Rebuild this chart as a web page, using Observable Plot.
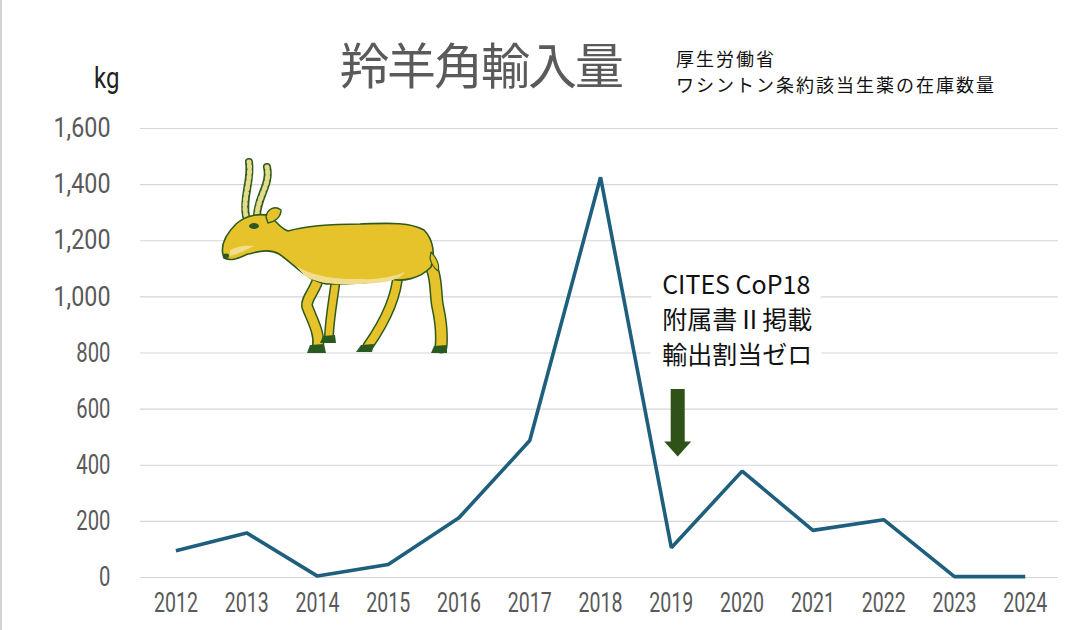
<!DOCTYPE html>
<html>
<head>
<meta charset="utf-8">
<script src="https://cdn.jsdelivr.net/npm/d3@7"></script>
<script src="https://cdn.jsdelivr.net/npm/@observablehq/plot@0.6"></script>
<style>
  html, body { margin: 0; padding: 0; background: #fff; }
  #wrap { position: relative; width: 1072px; height: 630px; overflow: hidden; background: #fff; }
  #wrap .edge { position: absolute; left: 0; top: 0; width: 2px; height: 630px; background: #d4d4d4; }
  .lbl { position: absolute; white-space: nowrap; line-height: 1; }
  #title { left: 340px; top: 38px; font-family: "Noto Sans CJK JP", sans-serif; font-size: 49px; color: #5a5a5a; letter-spacing: -2px; }
  .sub { left: 676px; font-family: "Noto Sans CJK JP", sans-serif; font-size: 18px; color: #111; line-height: 18px; height: 18px; letter-spacing: 2px; }
  #sub1 { top: 49px; }
  #sub2 { top: 75px; }
  #unit { left: 94px; top: 63px; font-family: Roboto, sans-serif; font-size: 30px; color: #222; transform: scaleX(0.8); transform-origin: 0 0; }
  #saiga { position: absolute; left: 0; top: 0; pointer-events: none; }
</style>
</head>
<body>
<div id="wrap">
  <div class="edge"></div>
  <div id="chart"></div>
  <div class="lbl" id="title"></div>
  <div class="lbl sub" id="sub1"></div>
  <div class="lbl sub" id="sub2"></div>
  <div class="lbl" id="unit"></div>
</div>
<script>
// ---- data ----
const years = [2012, 2013, 2014, 2015, 2016, 2017, 2018, 2019, 2020, 2021, 2022, 2023, 2024];
const kg    = [95, 159, 5, 46, 213, 488, 1426, 106, 379, 168, 206, 3, 3];
const yTicks = [0, 200, 400, 600, 800, 1000, 1200, 1400, 1600];
const titleText = "羚羊角輸入量";
const subLines = ["厚生労働省", "ワシントン条約該当生薬の在庫数量"];
const unitText = "kg";
const noteLines = ["CITES CoP18", "附属書Ⅱ掲載", "輸出割当ゼロ"];
const noteYear = 2018.87;
const noteValues = [1040, 915, 790];
const arrowYear = 2019.09;
const arrowFrom = 670;
const arrowShaftEnd = 481;
const arrowTip = 431;

const data = years.map((y, i) => ({year: y, kg: kg[i]}));
const notes = noteLines.map((t, i) => ({text: t, year: noteYear, v: noteValues[i]}));

document.getElementById("title").textContent = titleText;
document.getElementById("sub1").textContent = subLines[0];
document.getElementById("sub2").textContent = subLines[1];
document.getElementById("unit").textContent = unitText;

const green = "#2e5217";
const headSymbol = {
  draw(ctx) {
    ctx.moveTo(-13.5, -15);
    ctx.lineTo(13.5, -15);
    ctx.lineTo(0, 0);
    ctx.closePath();
  }
};

const tickFont = "Roboto, sans-serif";
const noteFont = `"Noto Sans CJK JP", sans-serif`;

const chart = Plot.plot({
  width: 1072,
  height: 630,
  marginLeft: 140,
  marginRight: 14,
  marginTop: 128,
  marginBottom: 53,
  style: {background: "transparent", overflow: "visible"},
  x: {type: "linear", domain: [2011.5, 2024.47], ticks: years, tickFormat: d => String(d), label: null},
  y: {domain: [0, 1600], ticks: yTicks, tickFormat: d3.format(","), label: null},
  marks: [
    Plot.gridY(yTicks, {stroke: "#d6d6d6", strokeOpacity: 1, strokeWidth: 1.2}),
    Plot.axisY(yTicks, {tickSize: 0, tickPadding: 30, fontSize: 27, fill: "#595959", fontFamily: tickFont, tickFormat: d3.format(","), label: null}),
    Plot.axisX(years, {tickSize: 0, tickPadding: 15, fontSize: 27, fill: "#595959", fontFamily: tickFont, tickFormat: d => String(d), label: null}),
    Plot.line(data, {x: "year", y: "kg", stroke: "#1d5f7d", strokeWidth: 3.6, strokeLinejoin: "miter", strokeLinecap: "butt"}),
    Plot.text(notes, {x: "year", y: "v", text: "text", textAnchor: "start", fontSize: 25, fill: "#fff",
      fontFamily: noteFont, stroke: "#fff", strokeWidth: 26, strokeLinejoin: "miter"}),
    Plot.text(notes, {x: "year", y: "v", text: "text", textAnchor: "start", fontSize: 25, fill: "#111",
      fontFamily: noteFont}),
    Plot.ruleX([{x: arrowYear, y1: arrowFrom, y2: arrowShaftEnd}], {x: "x", y1: "y1", y2: "y2", stroke: green, strokeWidth: 14}),
    Plot.dot([{x: arrowYear, y: arrowTip}], {x: "x", y: "y", symbol: headSymbol, fill: green, stroke: "none", r: 10})
  ]
});
// condensed look for tick labels
d3.select(chart).selectAll('g[aria-label="y-axis tick label"] text')
  .each(function() { const n = this.textContent.length; d3.select(this).attr("textLength", n * 11.4).attr("lengthAdjust", "spacingAndGlyphs"); });
d3.select(chart).selectAll('g[aria-label="x-axis tick label"] text')
  .each(function() { const n = this.textContent.length; d3.select(this).attr("textLength", n * 11).attr("lengthAdjust", "spacingAndGlyphs"); });
document.getElementById("chart").appendChild(chart);

// ---- decorative saiga illustration ----
const ns = "http://www.w3.org/2000/svg";
const svg = document.createElementNS(ns, "svg");
svg.setAttribute("id", "saiga");
svg.setAttribute("width", 1072);
svg.setAttribute("height", 630);
const Y = "#e6c22b", G = "#2e5a1c";
function leg(d, w) {
  return `<path d="${d}" fill="none" stroke="${G}" stroke-width="${w + 3}"/><path d="${d}" fill="none" stroke="${Y}" stroke-width="${w}"/>`;
}
svg.innerHTML = `
  <g stroke-linecap="round" stroke-linejoin="round">
    ${leg("M336,278 C334,296 330,314 329,336", 7)}
    ${leg("M398,272 C397,300 382,326 368,346", 8)}
    ${leg("M319,276 C316,290 306,298 307,306 C311,318 320,332 318,346", 9)}
    ${leg("M420,250 C440,270 434,292 438,308 C441,322 442,336 441,347", 10)}
    <path d="M310,345 L324,344 L326,353 L307,353 Z" fill="#2a5a22"/>
    <path d="M323,336 L335,335 L336,343 L320,343 Z" fill="#2a5a22"/>
    <path d="M361,345 L374,344 L372,352 L356,352 Z" fill="#2a5a22"/>
    <path d="M434,346 L447,345 L447,353 L431,353 Z" fill="#2a5a22"/>
    <path d="M246,216 C242,198 252,180 249,162" fill="none" stroke="${G}" stroke-width="8"/>
    <path d="M246,216 C242,198 252,180 249,162" fill="none" stroke="#e4dc8a" stroke-width="5" stroke-dasharray="2.2 3.2"/>
    <path d="M257,215 C258,196 271,184 267,167" fill="none" stroke="${G}" stroke-width="8"/>
    <path d="M257,215 C258,196 271,184 267,167" fill="none" stroke="#e4dc8a" stroke-width="5" stroke-dasharray="2.2 3.2"/>
    <path d="M224,258 C220,248 224,236 236,224 C246,215 260,213 270,216 C277,222 280,228 288,231
             C302,227 330,224 360,224 C390,223 410,222 424,230 C434,240 435,255 431,267
             C420,279 402,282 390,279 C370,284 345,284 326,284 C306,280 294,264 279,254
             C268,248 258,252 248,254 C240,257 233,262 224,258 Z"
          fill="${Y}" stroke="${G}" stroke-width="1.6"/>
    <path d="M296,266 C310,274 330,280 360,279 C380,280 395,276 405,272 C398,282 380,283 360,284 C340,285 318,284 305,276 Z"
          fill="#f1de8c" stroke="none"/>
    <path d="M230,250 C238,246 246,245 254,246 C246,250 238,254 230,256 Z" fill="#f1de8c"/>
    <path d="M431,252 C437,258 440,266 438,271 C434,268 431,264 430,258 Z" fill="${Y}" stroke="${G}" stroke-width="1.2"/>
    <path d="M266,217 C267,209 275,205 281,210 C281,217 275,222 268,223 Z" fill="${Y}" stroke="${G}" stroke-width="1.4"/>
    <ellipse cx="254" cy="226" rx="5" ry="3" fill="#2a5a22"/>
    <ellipse cx="226" cy="256" rx="3" ry="2.4" fill="#2a5a22"/>
  </g>`;
document.getElementById("wrap").appendChild(svg);
</script>
</body>
</html>
